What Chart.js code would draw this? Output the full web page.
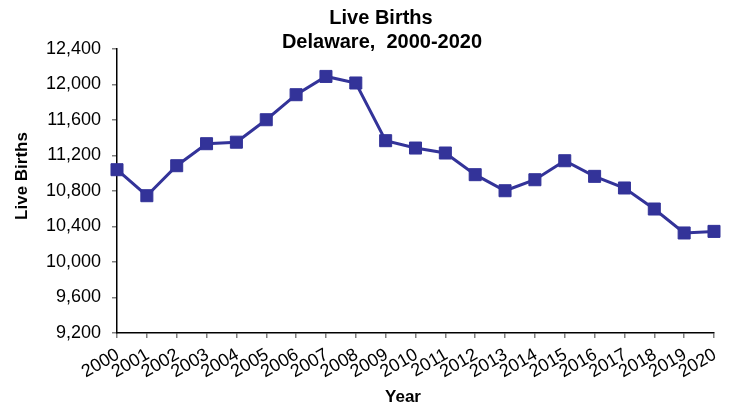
<!DOCTYPE html>
<html>
<head>
<meta charset="utf-8">
<script src="https://cdn.jsdelivr.net/npm/chart.js@4/dist/chart.umd.min.js"></script>
<style>
  html, body { margin: 0; padding: 0; background: #ffffff; }
  #wrap { width: 732px; height: 409px; position: relative; }
</style>
</head>
<body>
<div id="wrap"><canvas id="c" width="732" height="409"></canvas></div>
<script>
const years = ["2000","2001","2002","2003","2004","2005","2006","2007","2008","2009","2010",
               "2011","2012","2013","2014","2015","2016","2017","2018","2019","2020"];
const liveBirths = [11040, 10747, 11085, 11333, 11350, 11603, 11885, 12091, 12017, 11367, 11284,
                    11228, 10984, 10803, 10927, 11141, 10965, 10834, 10597, 10327, 10345];
const titleLines = ["Live Births", "Delaware,  2000-2020"];
const xTitle = "Year";
const yTitle = "Live Births";
const yMin = 9200, yMax = 12400, yStep = 400;

const FONT = "'Liberation Sans', Arial, Helvetica, sans-serif";
const SERIES = "#333399";

const textPlugin = {
  id: 'textPlugin',
  afterDraw(chart) {
    const ctx = chart.ctx;
    ctx.save();
    ctx.fillStyle = '#000';
    ctx.textAlign = 'center';
    ctx.textBaseline = 'middle';
    ctx.font = "bold 20px " + FONT;
    ctx.fillText(titleLines[0], 381, 18);
    ctx.fillText(titleLines[1], 382, 42);
    ctx.font = "bold 17px " + FONT;
    ctx.fillText(xTitle, 403, 397);
    ctx.translate(22, 176);
    ctx.rotate(-Math.PI / 2);
    ctx.fillText(yTitle, 0, 0);
    ctx.restore();
  }
};

new Chart(document.getElementById('c'), {
  type: 'line',
  data: {
    labels: years,
    datasets: [{
      data: liveBirths,
      borderColor: SERIES,
      backgroundColor: SERIES,
      borderWidth: 3,
      pointStyle: 'rect',
      pointRadius: 8.5,
      pointBorderWidth: 1,
      pointBorderColor: SERIES,
      pointBackgroundColor: SERIES,
      tension: 0,
      fill: false
    }]
  },
  options: {
    responsive: false,
    animation: false,
    devicePixelRatio: 1,
    layout: { padding: { left: 0, right: 18, top: 49, bottom: 0 } },
    plugins: {
      legend: { display: false },
      title: { display: false },
      tooltip: { enabled: false }
    },
    scales: {
      x: {
        type: 'category',
        offset: false,
        afterFit(s) { s.height = 76; },
        border: { display: true, color: '#000', width: 1.5 },
        grid: { drawOnChartArea: false, drawTicks: true, tickLength: 5, color: '#808080', lineWidth: 1.5 },
        ticks: {
          autoSkip: false,
          minRotation: 30,
          maxRotation: 30,
          padding: 6,
          labelOffset: 1,
          color: '#000',
          font: { family: FONT, size: 18 }
        }
      },
      y: {
        min: yMin,
        max: yMax,
        afterFit(s) { s.width = 117; },
        border: { display: true, color: '#000', width: 1.5 },
        grid: { drawOnChartArea: false, drawTicks: true, tickLength: 5, color: '#808080', lineWidth: 1.5 },
        ticks: {
          stepSize: yStep,
          padding: 11,
          color: '#000',
          font: { family: FONT, size: 18 },
          callback: v => v.toLocaleString('en-US')
        }
      }
    }
  },
  plugins: [textPlugin]
});
</script>
</body>
</html>
